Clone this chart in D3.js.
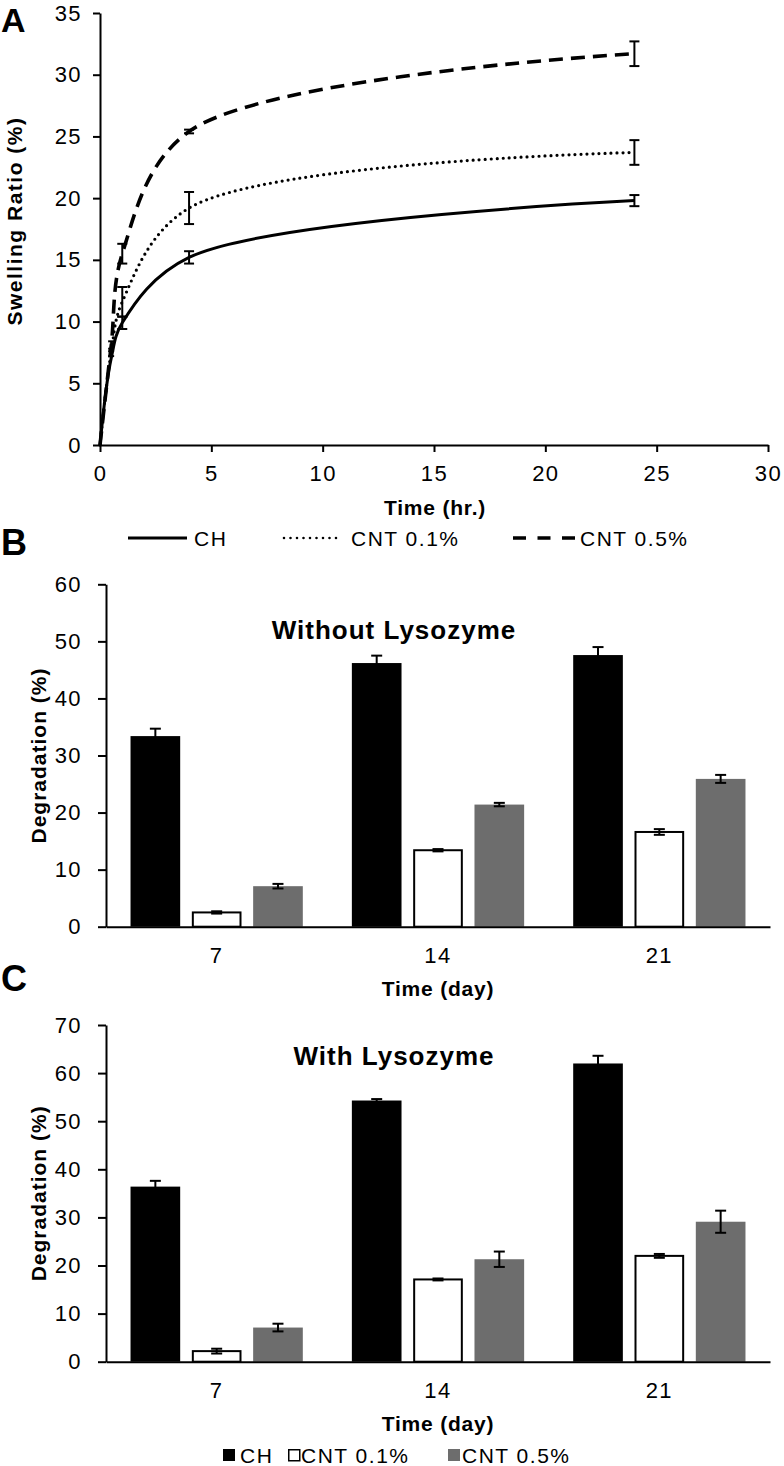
<!DOCTYPE html>
<html><head><meta charset="utf-8">
<script src="https://cdn.jsdelivr.net/npm/d3@7"></script>
<style>
body{margin:0;background:#fff}
svg{display:block}
text{font-family:"Liberation Sans",Arial,sans-serif;fill:#000}
</style>
</head><body>
<svg id="c" width="784" height="1466"></svg>
<script>
// ---------- DATA ----------
// Panel A: swelling ratio (%) vs time (hr.)
const times = [0, 0.5, 1, 4, 24];
const swellCH = [0, 7.0, 9.9, 15.2, 19.8];
const swellCH_err = [0, 0, 0.5, 0.5, 0.45];
const swellCNT01 = [0, 7.5, 11.6, 19.2, 23.7];
const swellCNT01_err = [0, 0.3, 1.2, 1.3, 1.0];
const swellCNT05 = [0, 8.0, 15.5, 25.4, 31.7];
const swellCNT05_err = [0, 0.4, 0.8, 0.15, 1.0];
const swellXTicks = [0, 5, 10, 15, 20, 25, 30];
const swellYTicks = [0, 5, 10, 15, 20, 25, 30, 35];

// Panels B and C: degradation (%) vs time (day)
const days = ["7", "14", "21"];
const seriesNames = ["CH", "CNT 0.1%", "CNT 0.5%"];
const degNoLysCH = [33.4, 46.2, 47.6];
const degNoLysCH_err = [1.3, 1.3, 1.4];
const degNoLysCNT01 = [2.5, 13.4, 16.6];
const degNoLysCNT01_err = [0.2, 0.2, 0.5];
const degNoLysCNT05 = [7.1, 21.4, 25.9];
const degNoLysCNT05_err = [0.4, 0.3, 0.7];
const degNoLysYTicks = [0, 10, 20, 30, 40, 50, 60];

const degLysCH = [36.4, 54.3, 62.0];
const degLysCH_err = [1.2, 0.3, 1.6];
const degLysCNT01 = [2.2, 17.1, 22.0];
const degLysCNT01_err = [0.5, 0.2, 0.4];
const degLysCNT05 = [7.1, 21.3, 29.1];
const degLysCNT05_err = [0.8, 1.6, 2.3];
const degLysYTicks = [0, 10, 20, 30, 40, 50, 60, 70];

// ---------- DRAW ----------
const svg = d3.select("#c");

function styleAxis(g, fs, ls) {
  g.select(".domain").attr("stroke", "#000").attr("stroke-width", 2);
  g.selectAll(".tick line").attr("stroke", "#000").attr("stroke-width", 2);
  g.selectAll(".tick text").attr("font-size", fs).attr("letter-spacing", ls).attr("fill", "#000")
    .style("font-family", '"Liberation Sans", Arial, sans-serif');
}

function label(txt, x, y, opts) {
  const t = svg.append("text").attr("x", x).attr("y", y).text(txt)
    .attr("font-size", opts.size || 21)
    .attr("font-weight", opts.bold ? "bold" : "normal")
    .attr("letter-spacing", opts.ls == null ? 1 : opts.ls)
    .attr("text-anchor", opts.anchor || "start");
  if (opts.rotate) t.attr("transform", `rotate(-90,${x},${y})`);
  return t;
}

// ===== Panel A =====
const xA = d3.scaleLinear().domain([0, 30]).range([100, 768]);
const yA = d3.scaleLinear().domain([0, 35]).range([445, 13]);

svg.append("g").attr("transform", "translate(100,0)")
  .call(d3.axisLeft(yA).tickValues(swellYTicks).tickSize(7).tickPadding(11).tickSizeOuter(0))
  .call(g => styleAxis(g, 22, 1.4));
svg.append("g").attr("transform", "translate(0,445)")
  .call(d3.axisBottom(xA).tickValues(swellXTicks).tickSize(7).tickPadding(13).tickSizeOuter(0))
  .call(g => styleAxis(g, 22, 1.4));

const swellSeries = [
  {name: "CH", vals: swellCH, err: swellCH_err, dash: null, width: 3, cap: "butt"},
  {name: "CNT 0.1%", vals: swellCNT01, err: swellCNT01_err, dash: "0,6", width: 3.2, cap: "round"},
  {name: "CNT 0.5%", vals: swellCNT05, err: swellCNT05_err, dash: "14,8", width: 3.6, cap: "butt"}
];
const lineA = d3.line().x(d => xA(d[0])).y(d => yA(d[1])).curve(d3.curveCatmullRom.alpha(0.5));

swellSeries.forEach(s => {
  const pts = times.map((t, i) => [t, s.vals[i]]);
  svg.append("path").datum(pts).attr("d", lineA)
    .attr("fill", "none").attr("stroke", "#000").attr("stroke-width", s.width)
    .attr("stroke-linecap", s.cap)
    .attr("stroke-dasharray", s.dash);
  const eb = svg.append("g").attr("stroke", "#000").attr("stroke-width", 2);
  times.forEach((t, i) => {
    if (s.err[i] <= 0) return;
    const x = xA(t), y1 = yA(s.vals[i] - s.err[i]), y2 = yA(s.vals[i] + s.err[i]);
    const hw = t < 1 ? 3 : 5;
    eb.append("line").attr("x1", x).attr("x2", x).attr("y1", y1).attr("y2", y2);
    eb.append("line").attr("x1", x - hw).attr("x2", x + hw).attr("y1", y1).attr("y2", y1);
    eb.append("line").attr("x1", x - hw).attr("x2", x + hw).attr("y1", y2).attr("y2", y2);
  });
});

label("Swelling Ratio (%)", 22, 221, {bold: true, size: 21, ls: 1.5, anchor: "middle", rotate: true});
label("Time (hr.)", 435, 515, {bold: true, size: 21, ls: 0.8, anchor: "middle"});
label("A", 1, 32, {bold: true, size: 34, ls: 0});

// Legend A
const legA = [
  {x1: 128, x2: 187, tx: 194, dash: null, w: 3, cap: "butt"},
  {x1: 284, x2: 340, tx: 351, dash: "0,6.5", w: 2.6, cap: "round"},
  {x1: 513, x2: 576, tx: 580, dash: "13,11.5", w: 3.6, cap: "butt"}
];
legA.forEach((l, i) => {
  svg.append("line").attr("x1", l.x1).attr("x2", l.x2).attr("y1", 538).attr("y2", 538)
    .attr("stroke", "#000").attr("stroke-width", l.w).attr("stroke-dasharray", l.dash)
    .attr("stroke-linecap", l.cap);
  label(seriesNames[i], l.tx, 545.5, {size: 21, ls: 1.5});
});

// ===== Bar panels =====
const barFill = ["#000", "#fff", "#6d6d6d"];
function barPanel(cfg) {
  const x0 = d3.scaleBand().domain(days).range([106, 770]).paddingInner(0).paddingOuter(0);
  const x1 = d3.scaleBand().domain(seriesNames).range([0, x0.bandwidth()]).paddingInner(0.19).paddingOuter(0.4);
  const y = d3.scaleLinear().domain([0, cfg.max]).range([cfg.bottom, cfg.top]);

  const data = [
    {vals: cfg.ch, err: cfg.chErr},
    {vals: cfg.c01, err: cfg.c01Err},
    {vals: cfg.c05, err: cfg.c05Err}
  ];
  data.forEach((s, si) => {
    days.forEach((d, di) => {
      const bx = x0(d) + x1(seriesNames[si]);
      const bw = x1.bandwidth();
      const v = s.vals[di];
      if (si === 1) {
        svg.append("rect").attr("x", bx + 1).attr("y", y(v)).attr("width", bw - 2)
          .attr("height", cfg.bottom - y(v)).attr("fill", "#fff").attr("stroke", "#000").attr("stroke-width", 2);
      } else {
        svg.append("rect").attr("x", bx).attr("y", y(v)).attr("width", bw)
          .attr("height", cfg.bottom - y(v)).attr("fill", barFill[si]);
      }
      const cx = bx + bw / 2, e = s.err[di];
      const ya = y(v - e), yb = y(v + e);
      const g = svg.append("g").attr("stroke", "#000").attr("stroke-width", 2);
      g.append("line").attr("x1", cx).attr("x2", cx).attr("y1", ya).attr("y2", yb);
      g.append("line").attr("x1", cx - 5.5).attr("x2", cx + 5.5).attr("y1", ya).attr("y2", ya);
      g.append("line").attr("x1", cx - 5.5).attr("x2", cx + 5.5).attr("y1", yb).attr("y2", yb);
    });
  });

  svg.append("g").attr("transform", "translate(106,0)")
    .call(d3.axisLeft(y).tickValues(cfg.ticks).tickSize(8).tickPadding(16).tickSizeOuter(0))
    .call(g => styleAxis(g, 22, 1.4));
  svg.append("g").attr("transform", `translate(0,${cfg.bottom})`)
    .call(d3.axisBottom(x0).tickSize(0).tickPadding(21).tickSizeOuter(0))
    .call(g => styleAxis(g, 22, 1.4));

  label(cfg.title, 394, cfg.titleY, {bold: true, size: 26, ls: 1, anchor: "middle"});
  label("Degradation (%)", 46, (cfg.top + cfg.bottom) / 2, {bold: true, size: 21, ls: 1, anchor: "middle", rotate: true});
  label("Time (day)", 438, cfg.xTitleY, {bold: true, size: 21, ls: 0.8, anchor: "middle"});
  label(cfg.letter, 1, cfg.letterY, {bold: true, size: 36, ls: 0});
}

barPanel({
  max: 60, top: 584.3, bottom: 926.7, ticks: degNoLysYTicks,
  ch: degNoLysCH, chErr: degNoLysCH_err, c01: degNoLysCNT01, c01Err: degNoLysCNT01_err,
  c05: degNoLysCNT05, c05Err: degNoLysCNT05_err,
  title: "Without Lysozyme", titleY: 639, xTitleY: 996, letter: "B", letterY: 555
});
barPanel({
  max: 70, top: 1025, bottom: 1361.7, ticks: degLysYTicks,
  ch: degLysCH, chErr: degLysCH_err, c01: degLysCNT01, c01Err: degLysCNT01_err,
  c05: degLysCNT05, c05Err: degLysCNT05_err,
  title: "With Lysozyme", titleY: 1065, xTitleY: 1431, letter: "C", letterY: 991
});

// Legend C
const legC = [{sx: 223, tx: 240}, {sx: 288, tx: 301}, {sx: 448, tx: 462}];
legC.forEach((l, i) => {
  if (i === 1) {
    svg.append("rect").attr("x", l.sx + 0.75).attr("y", 1449.75).attr("width", 11).attr("height", 11)
      .attr("fill", "#fff").attr("stroke", "#000").attr("stroke-width", 1.5);
  } else {
    svg.append("rect").attr("x", l.sx).attr("y", 1449).attr("width", 12).attr("height", 12).attr("fill", barFill[i]);
  }
  label(seriesNames[i], l.tx, 1462.5, {size: 21, ls: 1.5});
});
</script>
</body></html>
